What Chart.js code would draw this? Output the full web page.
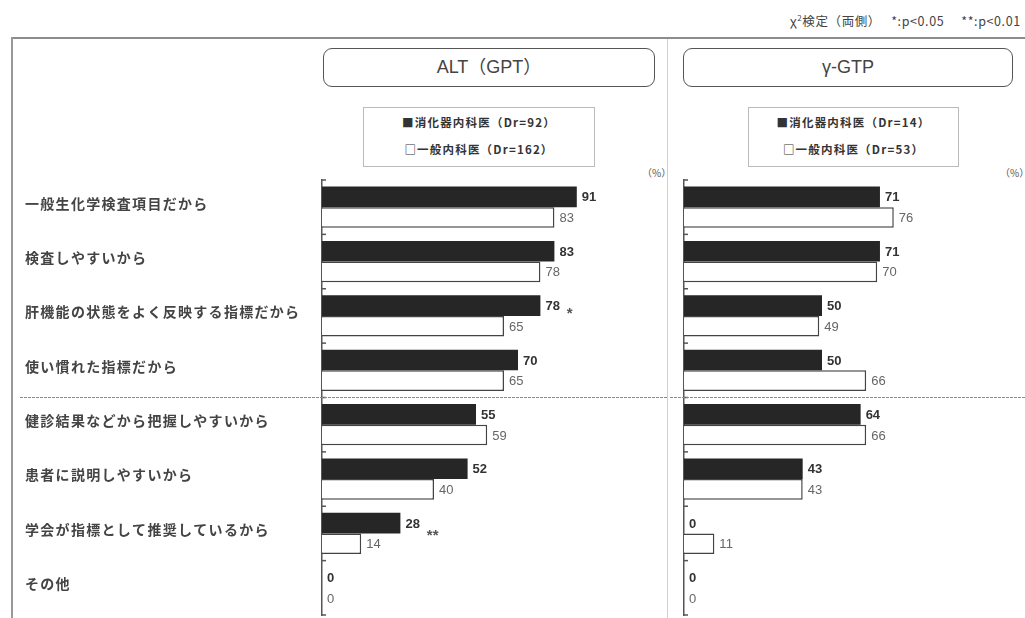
<!DOCTYPE html>
<html lang="ja">
<head>
<meta charset="utf-8">
<script src="https://cdn.jsdelivr.net/npm/chart.js@4"></script>
<style>
  html, body { margin: 0; padding: 0; background: #fff; }
  body { width: 1025px; height: 618px; position: relative; overflow: hidden;
         font-family: "Noto Sans CJK JP", "Noto Sans", sans-serif; color: #444; }
  .abs { position: absolute; }
  .note { left: 790px; top: 11px; font-size: 12.5px; letter-spacing: 0.6px; white-space: nowrap; color: #444; }
  .note sup { font-size: 8px; }
  .title { top: 48px; height: 37px; border: 1.5px solid #555; border-radius: 9px;
           text-align: center; line-height: 37px; font-size: 18px; color: #444;
           font-family: "Liberation Sans", "Noto Sans CJK JP", sans-serif; }
  .legend { top: 107px; height: 58px; border: 1px solid #bbb; font-size: 11.5px;
            font-weight: bold; letter-spacing: 1.2px; color: #333; text-align: center; }
  .legend div { height: 27px; line-height: 29px; }
  .pct { top: 165px; font-size: 10px; color: #555; }
  canvas { position: absolute; }
</style>
</head>
<body>
<div class="abs note">χ<sup>2</sup>検定（両側）&nbsp;&nbsp;&nbsp;*:p&lt;0.05&nbsp;&nbsp;&nbsp;&nbsp;&nbsp;**:p&lt;0.01</div>
<div class="abs" style="left:11px;top:37px;width:1014px;height:2px;background:#8c8c8c"></div>
<div class="abs" style="left:11px;top:37px;width:2px;height:581px;background:#999"></div>
<div class="abs" style="left:667px;top:39px;width:1px;height:579px;background:#d0d0d0"></div>

<div class="abs title" style="left:323px;width:330px">ALT（GPT）</div>
<div class="abs title" style="left:683px;width:328px">γ-GTP</div>

<div class="abs legend" id="legendAlt" style="left:363px;width:230px"></div>
<div class="abs legend" id="legendGtp" style="left:748px;width:209px"></div>

<div class="abs pct" style="left:642px">（%）</div>
<div class="abs pct" style="left:1000px">（%）</div>

<canvas id="altChart" width="656" height="448" style="left:12px;top:170px"></canvas>
<canvas id="gtpChart" width="355" height="448" style="left:670px;top:170px"></canvas>

<script>
/* Data */
const categories = [
    "一般生化学検査項目だから",
    "検査しやすいから",
    "肝機能の状態をよく反映する指標だから",
    "使い慣れた指標だから",
    "健診結果などから把握しやすいから",
    "患者に説明しやすいから",
    "学会が指標として推奨しているから",
    "その他"
];
const seriesNames = ["消化器内科医", "一般内科医"];
const altCounts = [92, 162];
const gtpCounts = [14, 53];

const altGastro  = [91, 83, 78, 70, 55, 52, 28, 0];
const altGeneral = [83, 78, 65, 65, 59, 40, 14, 0];
const altSig     = ["", "", "*", "", "", "", "**", ""];

const gtpGastro  = [71, 71, 50, 50, 64, 43, 0, 0];
const gtpGeneral = [76, 70, 49, 66, 66, 43, 11, 0];
const gtpSig     = ["", "", "", "", "", "", "", ""];

/* Legends */
function fillLegend(id, counts) {
    const el = document.getElementById(id);
    el.innerHTML =
        "<div>■" + seriesNames[0] + "（Dr=" + counts[0] + "）</div>" +
        "<div>□" + seriesNames[1] + "（Dr=" + counts[1] + "）</div>";
}
fillLegend("legendAlt", altCounts);
fillLegend("legendGtp", gtpCounts);

/* =======================
   PLUGINS
======================= */

// value labels + significance marks
const barLabels = {
    id: "barLabels",
    afterDatasetsDraw(chart, args, opts) {
        const ctx = chart.ctx;
        ctx.save();
        ctx.textBaseline = "middle";
        ctx.textAlign = "left";
        chart.data.datasets.forEach((ds, di) => {
            const meta = chart.getDatasetMeta(di);
            meta.data.forEach((bar, i) => {
                const txt = String(ds.data[i]);
                ctx.font = (di === 0 ? "bold " : "") + "13px 'Liberation Sans', Arial, sans-serif";
                ctx.fillStyle = di === 0 ? "#333" : "#666";
                const x = bar.x + 5;
                ctx.fillText(txt, x, bar.y + 1);
                if (di === 0 && opts.sig && opts.sig[i]) {
                    const w = ctx.measureText(txt).width;
                    ctx.font = "bold 15px 'Liberation Sans', Arial, sans-serif";
                    ctx.fillStyle = "#555";
                    const dy = opts.sig[i].length > 1 ? 13 : 8;
                    ctx.fillText(opts.sig[i], x + w + 7, bar.y + dy);
                }
            });
        });
        ctx.restore();
    }
};

// axis bracket ticks, category names, dotted separator
const axisExtras = {
    id: "axisExtras",
    afterDraw(chart, args, opts) {
        const ctx = chart.ctx;
        const y = chart.scales.y;
        const n = chart.data.labels.length;
        const step = y.getPixelForValue(1) - y.getPixelForValue(0);
        const left = chart.chartArea.left;
        ctx.save();

        // small ticks at category boundaries
        ctx.strokeStyle = "#555";
        ctx.lineWidth = 1.5;
        for (let i = 0; i <= n; i++) {
            const py = y.getPixelForValue(i) - step / 2;
            ctx.beginPath();
            ctx.moveTo(left, py);
            ctx.lineTo(left + 4, py);
            ctx.stroke();
        }

        // separator between group 4 and 5
        const sy = (y.getPixelForValue(3) + y.getPixelForValue(4)) / 2;
        ctx.strokeStyle = "#8a8a8a";
        ctx.lineWidth = 1;
        ctx.setLineDash([3, 1]);
        ctx.beginPath();
        ctx.moveTo(opts.sepFrom || 0, sy);
        ctx.lineTo(chart.width, sy);
        ctx.stroke();
        ctx.setLineDash([]);

        // category names (left chart only)
        if (opts.names) {
            ctx.font = "bold 14px 'Noto Sans CJK JP', sans-serif";
            ctx.fillStyle = "#444";
            ctx.textBaseline = "middle";
            ctx.letterSpacing = "1.3px";
            chart.data.labels.forEach((lab, i) => {
                ctx.fillText(lab, 13, y.getPixelForValue(i) - 4);
            });
        }
        ctx.restore();
    }
};

/* =======================
   CHART HELPER
======================= */

function createChart(id, gastro, general, cfg) {
    const el = document.getElementById(id);
    if (!el) return;
    new Chart(el, {
        type: "bar",
        data: {
            labels: categories,
            datasets: [
                { label: seriesNames[0], data: gastro, backgroundColor: "#262626",
                  borderWidth: 0, categoryPercentage: 0.76, barPercentage: 1.0 },
                { label: seriesNames[1], data: general, backgroundColor: "#ffffff",
                  borderColor: "#444", borderWidth: 1.5, categoryPercentage: 0.76, barPercentage: 1.0 }
            ]
        },
        options: {
            indexAxis: "y",
            responsive: false,
            animation: false,
            layout: { padding: { top: 10, bottom: 3, right: cfg.padRight } },
            scales: {
                x: { display: false, min: 0, max: 100 },
                y: {
                    grid: { display: false },
                    border: { display: true, color: "#555", width: 1.5 },
                    ticks: { display: false },
                    afterFit: (s) => { s.width = cfg.axisWidth; }
                }
            },
            plugins: {
                legend: { display: false },
                tooltip: { enabled: false },
                barLabels: { sig: cfg.sig },
                axisExtras: { names: cfg.names, sepFrom: cfg.sepFrom }
            }
        },
        plugins: [barLabels, axisExtras]
    });
}

createChart("altChart", altGastro, altGeneral,
    { axisWidth: 310, padRight: 66, sig: altSig, names: true, sepFrom: 8 });

createChart("gtpChart", gtpGastro, gtpGeneral,
    { axisWidth: 14, padRight: 65, sig: gtpSig, names: false, sepFrom: 0 });
</script>
</body>
</html>
